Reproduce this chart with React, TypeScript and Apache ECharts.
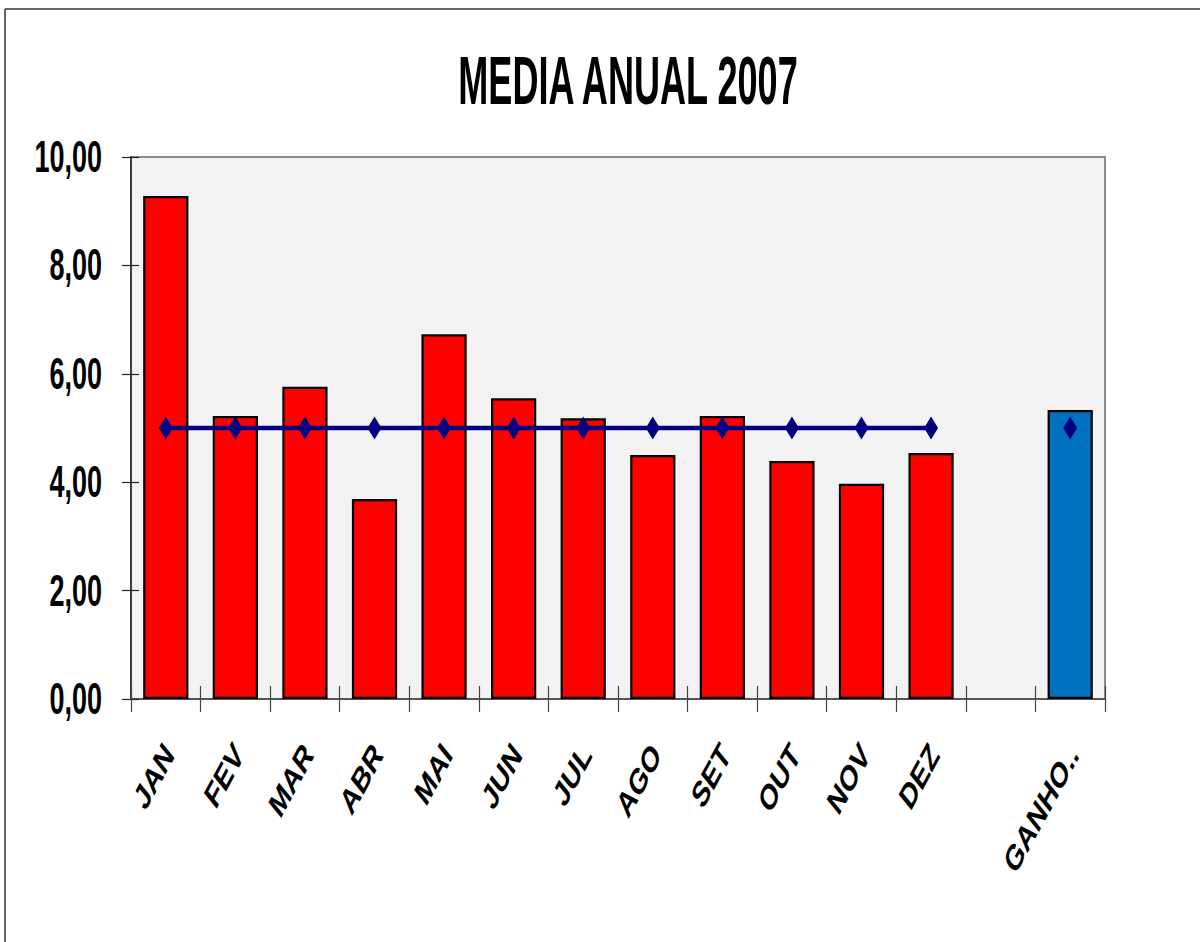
import React, { useEffect, useRef } from "react";
import * as echarts from "echarts";

const categories = ["JAN", "FEV", "MAR", "ABR", "MAI", "JUN", "JUL", "AGO", "SET", "OUT", "NOV", "DEZ", "", "GANHO.."];
const barValues = [9.28, 5.22, 5.76, 3.69, 6.73, 5.55, 5.18, 4.5, 5.22, 4.39, 3.97, 4.54, null, 5.33];
const lineValues = [5, 5, 5, 5, 5, 5, 5, 5, 5, 5, 5, 5, null, 5];
const yTickValues = [0, 2, 4, 6, 8, 10];
const yRange = { min: 0, max: 10, interval: 2 };
const title = "MEDIA ANUAL 2007";

const SANS = '"Liberation Sans", Arial, Helvetica, sans-serif';

export default function App() {
  const ref = useRef<HTMLDivElement>(null);
  useEffect(() => {
    document.body.style.margin = "0";
    const chart = echarts.init(ref.current!, null, { renderer: "svg" });
    const fmt = (v: number) => v.toFixed(2).replace(".", ",");
    chart.setOption({
      animation: false,
      backgroundColor: "#ffffff",
      grid: {
        left: 131,
        right: 95,
        top: 157,
        bottom: 243,
        show: true,
        backgroundColor: "#f2f2f2",
        borderColor: "#8a8a8a",
        borderWidth: 2,
      },
      xAxis: [
        {
          type: "category",
          data: categories,
          axisLine: { show: true, lineStyle: { color: "#555", width: 2 } },
          axisTick: { show: true, length: 13, lineStyle: { color: "#444", width: 1.2 } },
          axisLabel: { show: false },
        },
        {
          type: "category",
          data: categories,
          position: "bottom",
          axisLine: { show: false },
          axisTick: { show: true, inside: true, length: 13, lineStyle: { color: "#444", width: 1.2 } },
          axisLabel: { show: false },
        },
      ],
      yAxis: [
        {
          type: "value",
          min: yRange.min,
          max: yRange.max,
          interval: yRange.interval,
          splitLine: { show: false },
          axisLine: { show: true, lineStyle: { color: "#222", width: 1.5 } },
          axisTick: { show: true, length: 9, lineStyle: { color: "#222", width: 1.2 } },
          axisLabel: { show: false },
        },
        {
          type: "value",
          min: yRange.min,
          max: yRange.max,
          interval: yRange.interval,
          position: "left",
          splitLine: { show: false },
          axisLine: { show: false },
          axisTick: { show: true, inside: true, length: 8, lineStyle: { color: "#222", width: 1.2 } },
          axisLabel: { show: false },
        },
      ],
      series: [
        {
          type: "bar",
          barCategoryGap: "35%",
          data: barValues.map((v, i) => ({
            value: v,
            itemStyle: { color: categories[i].startsWith("GANHO") ? "#0070c0" : "#ff0000" },
          })),
          itemStyle: { borderColor: "#000", borderWidth: 2.2 },
          z: 2,
        },
        {
          type: "line",
          data: lineValues,
          connectNulls: false,
          symbol: "diamond",
          symbolSize: [14, 23],
          showAllSymbol: true,
          itemStyle: { color: "#000080" },
          lineStyle: { color: "#000080", width: 4.5 },
          z: 3,
        },
      ],
    });

    // Axis labels drawn from the axes' own scales (stretched glyphs like the reference)
    const rect = (chart as any).getModel().getComponent("grid", 0).coordinateSystem.getRect();
    const axisY = rect.y + rect.height;
    const axisX = rect.x;
    const yLabels = yTickValues.map((v) => ({
      type: "text",
      x: axisX - 29,
      y: chart.convertToPixel({ yAxisIndex: 0 }, v) as number,
      scaleX: 0.9,
      scaleY: 1.45,
      style: {
        text: fmt(v),
        fontFamily: SANS,
        fontWeight: "bold",
        fontSize: 30,
        fill: "#000",
        align: "right",
        verticalAlign: "middle",
      },
    }));
    const xLabels = categories
      .map((c, i) => ({ c, i }))
      .filter((d) => d.c !== "")
      .map(({ c, i }) => ({
        type: "group",
        x: (chart.convertToPixel({ xAxisIndex: 0 }, i) as number) + 3,
        y: axisY + 49,
        scaleY: 1.5,
        children: [
          {
            type: "text",
            rotation: (51 * Math.PI) / 180,
            style: {
              text: c,
              fontFamily: SANS,
              fontWeight: "bold",
              fontSize: 24,
              fill: "#000",
              align: "right",
              verticalAlign: "middle",
            },
          },
        ],
      }));

    chart.setOption({
      graphic: [
        { type: "line", shape: { x1: 5, y1: 9, x2: 1200, y2: 9 }, style: { stroke: "#333", lineWidth: 1.5 } },
        { type: "line", shape: { x1: 5, y1: 9, x2: 5, y2: 942 }, style: { stroke: "#333", lineWidth: 1.5 } },
        {
          type: "text",
          x: 628,
          y: 81,
          scaleX: 0.82,
          scaleY: 1.55,
          style: {
            text: title,
            fontFamily: SANS,
            fontWeight: "bold",
            fontSize: 44,
            fill: "#000",
            align: "center",
            verticalAlign: "middle",
          },
        },
        ...yLabels,
        ...xLabels,
      ],
    });
    return () => chart.dispose();
  }, []);
  return <div ref={ref} style={{ width: 1200, height: 942 }} />;
}
